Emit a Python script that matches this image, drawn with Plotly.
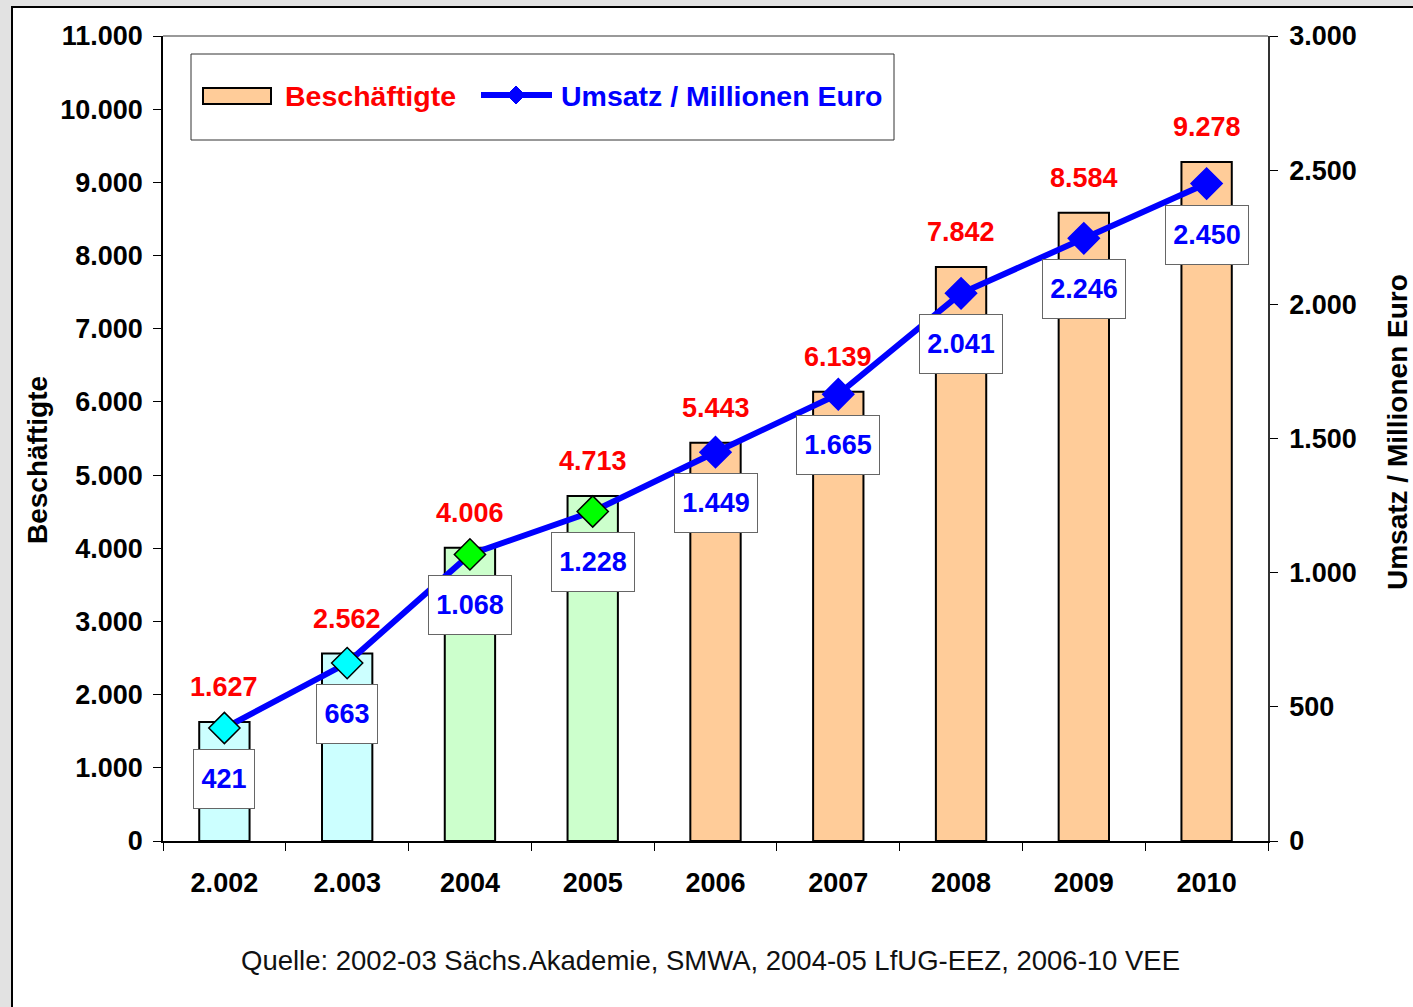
import plotly.graph_objects as go

# ---- data ----
years = ["2.002", "2.003", "2004", "2005", "2006", "2007", "2008", "2009", "2010"]
beschaeftigte = [1627, 2562, 4006, 4713, 5443, 6139, 7842, 8584, 9278]
umsatz = [421, 663, 1068, 1228, 1449, 1665, 2041, 2246, 2450]
beschaeftigte_labels = ["1.627", "2.562", "4.006", "4.713", "5.443", "6.139", "7.842", "8.584", "9.278"]
umsatz_labels = ["421", "663", "1.068", "1.228", "1.449", "1.665", "2.041", "2.246", "2.450"]
left_ticks = [0, 1000, 2000, 3000, 4000, 5000, 6000, 7000, 8000, 9000, 10000, 11000]
left_ticktext = ["0", "1.000", "2.000", "3.000", "4.000", "5.000", "6.000", "7.000", "8.000", "9.000", "10.000", "11.000"]
right_ticks = [0, 500, 1000, 1500, 2000, 2500, 3000]
right_ticktext = ["0", "500", "1.000", "1.500", "2.000", "2.500", "3.000"]

# ---- styles ----
bar_colors = ["#CCFFFF", "#CCFFFF", "#CCFFCC", "#CCFFCC", "#FFCC99", "#FFCC99", "#FFCC99", "#FFCC99", "#FFCC99"]
marker_colors = ["#00FFFF", "#00FFFF", "#00FF00", "#00FF00", "#0000FF", "#0000FF", "#0000FF", "#0000FF", "#0000FF"]
marker_line_colors = ["#000000"] * 4 + ["#0000FF"] * 5

W, H = 1413, 1007
L, R, T, B = 163, 1268, 36, 841
FONT = "Liberation Sans, Arial, sans-serif"


def px(xp):
    return (xp - L) / (R - L)


def py(yp):
    return (B - yp) / (B - T)


fig = go.Figure()
fig.add_trace(go.Bar(
    x=years, y=beschaeftigte, name="Beschäftigte",
    marker=dict(color=bar_colors, line=dict(color="black", width=2)),
    width=0.41, showlegend=False,
))
fig.add_trace(go.Scatter(
    x=years, y=umsatz, yaxis="y2", mode="lines+markers", name="Umsatz / Millionen Euro",
    line=dict(color="#0000FF", width=6),
    marker=dict(symbol="diamond", size=24, color=marker_colors,
                line=dict(color=marker_line_colors, width=1.5)),
    showlegend=False,
))

annotations = []
for i, (v, lab) in enumerate(zip(beschaeftigte, beschaeftigte_labels)):
    annotations.append(dict(x=i, y=v, xref="x", yref="y", text=lab, showarrow=False,
                            xanchor="center", yanchor="middle", yshift=35,
                            font=dict(family=FONT, size=27, color="#FF0000", weight="bold")))
for i, (v, lab) in enumerate(zip(umsatz, umsatz_labels)):
    annotations.append(dict(x=i, y=v, xref="x", yref="y2", text=lab, showarrow=False,
                            xanchor="center", yanchor="middle",
                            yshift=-51, width=80 if len(lab) > 3 else 58, height=56,
                            bgcolor="white", bordercolor="#666666", borderwidth=1, borderpad=1,
                            font=dict(family=FONT, size=27, color="#0000FF", weight="bold")))
# axis titles
annotations.append(dict(x=px(37), y=py(460), xref="paper", yref="paper", text="Beschäftigte",
                        textangle=-90, showarrow=False, xanchor="center", yanchor="middle",
                        font=dict(family=FONT, size=28, color="black", weight="bold")))
annotations.append(dict(x=px(1398), y=py(432), xref="paper", yref="paper", text="Umsatz / Millionen Euro",
                        textangle=-90, showarrow=False, xanchor="center", yanchor="middle",
                        font=dict(family=FONT, size=28, color="black", weight="bold")))
# source
annotations.append(dict(x=px(710), y=py(960), xref="paper", yref="paper",
                        text="Quelle: 2002-03 Sächs.Akademie, SMWA, 2004-05 LfUG-EEZ, 2006-10 VEE",
                        showarrow=False, xanchor="center", yanchor="middle",
                        font=dict(family=FONT, size=27.5, color="#111111")))
# legend texts
annotations.append(dict(x=px(283), y=py(96), xref="paper", yref="paper", text="Beschäftigte",
                        xanchor="left", yanchor="middle", showarrow=False,
                        font=dict(family=FONT, size=28.5, color="#FF0000", weight="bold")))
annotations.append(dict(x=px(559), y=py(96), xref="paper", yref="paper", text="Umsatz / Millionen Euro",
                        xanchor="left", yanchor="middle", showarrow=False,
                        font=dict(family=FONT, size=28.5, color="#0000FF", weight="bold")))

shapes = [
    # white card on gray page
    dict(type="rect", xref="paper", yref="paper", x0=px(12), y0=py(H + 20), x1=px(W + 20), y1=py(7),
         fillcolor="white", line=dict(color="black", width=2), layer="below"),
    # top border of plot area
    dict(type="line", xref="paper", yref="paper", x0=0, x1=1, y0=1, y1=1,
         line=dict(color="#777777", width=1.5)),
    # legend box
    dict(type="rect", xref="paper", yref="paper", x0=px(191), x1=px(894), y0=py(140), y1=py(54),
         fillcolor="white", line=dict(color="#333333", width=1)),
    # legend bar swatch
    dict(type="rect", xref="paper", yref="paper", x0=px(203), x1=px(271), y0=py(104), y1=py(88),
         fillcolor="#FFCC99", line=dict(color="black", width=2)),
    # legend line
    dict(type="line", xref="paper", yref="paper", x0=px(481), x1=px(552), y0=py(95), y1=py(95),
         line=dict(color="#0000FF", width=6)),
    # legend diamond
    dict(type="path", xref="paper", yref="paper",
         path=f"M {px(516)},{py(86)} L {px(525)},{py(95)} L {px(516)},{py(104)} L {px(507)},{py(95)} Z",
         fillcolor="#0000FF", line=dict(color="#0000FF", width=1)),
]

tickfont = dict(family=FONT, size=27, color="black", weight="bold")
fig.update_layout(
    width=W, height=H,
    margin=dict(l=L, r=W - R, t=T, b=H - B, pad=0),
    paper_bgcolor="#e2e2e2", plot_bgcolor="rgba(0,0,0,0)",
    xaxis=dict(type="category", range=[-0.5, 8.5], showgrid=False, zeroline=False,
               showline=True, linecolor="black", linewidth=1.5,
               ticks="outside", tickson="boundaries", ticklen=8, tickcolor="black",
               tickfont=tickfont, ticklabelstandoff=17),
    yaxis=dict(range=[0, 11000], tickvals=left_ticks, ticktext=left_ticktext,
               showgrid=False, zeroline=False, showline=True, linecolor="black", linewidth=1.5,
               ticks="outside", ticklen=8, tickcolor="black", tickfont=tickfont,
               ticklabelstandoff=5),
    yaxis2=dict(range=[0, 3000], tickvals=right_ticks, ticktext=right_ticktext,
                overlaying="y", side="right", showgrid=False, zeroline=False,
                showline=True, linecolor="#333333", linewidth=1.5,
                ticks="outside", ticklen=8, tickcolor="black", tickfont=tickfont,
                ticklabelstandoff=6),
    annotations=annotations,
    shapes=shapes,
    showlegend=False,
)

fig.write_html("out.html", config={"displayModeBar": False},
               post_script="document.body.style.margin='0';document.body.style.overflow='hidden';")
